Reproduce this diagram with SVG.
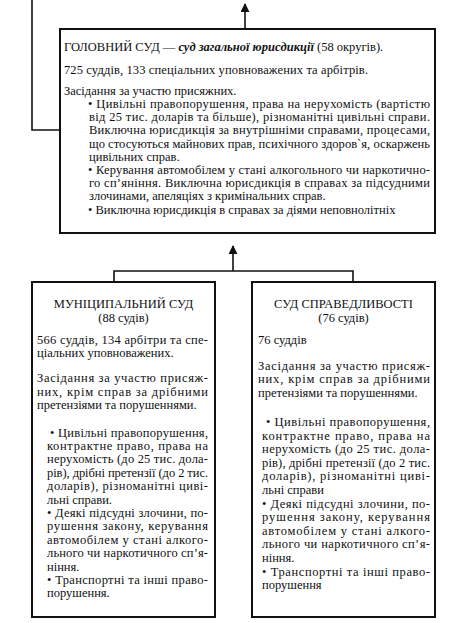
<svg xmlns="http://www.w3.org/2000/svg" width="454" height="623" viewBox="0 0 454 623">
<style>
  text { font-family: "Liberation Serif", "Times New Roman", serif; font-size: 12.5px; fill: #111; }
  .box { fill: #fff; stroke: #111; stroke-width: 2; }
  .c { text-anchor: middle; }
  .em { font-weight: bold; font-style: italic; }
  .ln { fill: none; stroke: #111; stroke-width: 1.6; }
</style>
<defs>
  <marker id="ah" viewBox="0 0 10 10" refX="9" refY="5" markerWidth="9" markerHeight="9" markerUnits="userSpaceOnUse" orient="auto">
    <path d="M0,0 L10,5 L0,10 z" fill="#111"/>
  </marker>
</defs>
<rect width="454" height="623" fill="#fff"/>

<g id="connectors">
  <path class="ln" d="M32,0 V130 H60"/>
  <path class="ln" d="M245,29 V4" marker-end="url(#ah)"/>
  <path class="ln" d="M114,282 V271 H353 V282"/>
  <path class="ln" d="M233,271 V246" marker-end="url(#ah)"/>
</g>

<g id="main-court">
  <rect class="box" x="60" y="29" width="375" height="204"/>
  <text x="64" y="51">ГОЛОВНИЙ СУД — <tspan class="em">суд загальної юрисдикції</tspan> (58 округів).</text>
  <text x="64" y="74" textLength="304" lengthAdjust="spacing">725 суддів, 133 спеціальних уповноважених та арбітрів.</text>
  <text x="64" y="95">Засідання за участю присяжних.</text>
  <text x="88" y="108" textLength="342" lengthAdjust="spacing">• Цивільні правопорушення, права на нерухомість (вартістю</text>
  <text x="89" y="121.2" textLength="341" lengthAdjust="spacing">від 25 тис. доларів та більше), різноманітні цивільні справи.</text>
  <text x="89" y="134.4" textLength="341" lengthAdjust="spacing">Виключна юрисдикція за внутрішніми справами, процесами,</text>
  <text x="89" y="147.6" textLength="341" lengthAdjust="spacing">що стосуються майнових прав, психічного здоров`я, оскаржень</text>
  <text x="89" y="160.8">цивільних справ.</text>
  <text x="88" y="174" textLength="342" lengthAdjust="spacing">• Керування автомобілем у стані алкогольного чи наркотично-</text>
  <text x="89" y="187.2" textLength="341" lengthAdjust="spacing">го сп’яніння. Виключна юрисдикція в справах за підсудними</text>
  <text x="89" y="200.4">злочинами, апеляціях з кримінальних справ.</text>
  <text x="88" y="213.6">• Виключна юрисдикція в справах за діями неповнолітніх</text>
</g>

<g id="municipal-court">
  <rect class="box" x="32" y="282" width="183" height="335"/>
  <text class="c" x="123.5" y="308">МУНІЦИПАЛЬНИЙ СУД</text>
  <text class="c" x="123.5" y="322">(88 судів)</text>
  <text x="37" y="344" textLength="171" lengthAdjust="spacing">566 суддів, 134 арбітри та спе-</text>
  <text x="37" y="357">ціальних уповноважених.</text>
  <text x="37" y="382" textLength="171" lengthAdjust="spacing">Засідання за участю присяж-</text>
  <text x="37" y="395.5" textLength="171" lengthAdjust="spacing">них, крім справ за дрібними</text>
  <text x="37" y="409">претензіями та порушеннями.</text>
  <text x="50" y="436.5" textLength="158" lengthAdjust="spacing">• Цивільні правопорушення,</text>
  <text x="47" y="449.9" textLength="161" lengthAdjust="spacing">контрактне право, права на</text>
  <text x="47" y="463.3" textLength="161" lengthAdjust="spacing">нерухомість (до 25 тис. дола-</text>
  <text x="47" y="476.7" textLength="161" lengthAdjust="spacing">рів), дрібні претензії (до 2 тис.</text>
  <text x="47" y="490.1" textLength="161" lengthAdjust="spacing">доларів), різноманітні циві-</text>
  <text x="47" y="503.5">льні справи.</text>
  <text x="47" y="516.9" textLength="161" lengthAdjust="spacing">• Деякі підсудні злочини, по-</text>
  <text x="47" y="530.3" textLength="161" lengthAdjust="spacing">рушення закону, керування</text>
  <text x="47" y="543.7" textLength="161" lengthAdjust="spacing">автомобілем у стані алкого-</text>
  <text x="47" y="557.1" textLength="161" lengthAdjust="spacing">льного чи наркотичного сп’я-</text>
  <text x="47" y="570.5">ніння.</text>
  <text x="47" y="583.9" textLength="161" lengthAdjust="spacing">• Транспортні та інші право-</text>
  <text x="47" y="597.3">порушення.</text>
</g>

<g id="justice-court">
  <rect class="box" x="252" y="282" width="183" height="335"/>
  <text class="c" x="343.5" y="308">СУД СПРАВЕДЛИВОСТІ</text>
  <text class="c" x="343.5" y="322">(76 судів)</text>
  <text x="258" y="344">76 суддів</text>
  <text x="258" y="369.5" textLength="172" lengthAdjust="spacing">Засідання за участю присяж-</text>
  <text x="258" y="383" textLength="172" lengthAdjust="spacing">них, крім справ за дрібними</text>
  <text x="258" y="396.5">претензіями та порушеннями.</text>
  <text x="266" y="426" textLength="164" lengthAdjust="spacing">• Цивільні правопорушення,</text>
  <text x="262" y="439.6" textLength="168" lengthAdjust="spacing">контрактне право, права на</text>
  <text x="262" y="453.2" textLength="168" lengthAdjust="spacing">нерухомість (до 25 тис. дола-</text>
  <text x="262" y="466.8" textLength="168" lengthAdjust="spacing">рів), дрібні претензії (до 2 тис.</text>
  <text x="262" y="480.4" textLength="168" lengthAdjust="spacing">доларів), різноманітні циві-</text>
  <text x="262" y="494">льні справи</text>
  <text x="262" y="507.6" textLength="168" lengthAdjust="spacing">• Деякі підсудні злочини, по-</text>
  <text x="262" y="521.2" textLength="168" lengthAdjust="spacing">рушення закону, керування</text>
  <text x="262" y="534.8" textLength="168" lengthAdjust="spacing">автомобілем у стані алкого-</text>
  <text x="262" y="548.4" textLength="168" lengthAdjust="spacing">льного чи наркотичного сп’я-</text>
  <text x="262" y="562">ніння.</text>
  <text x="262" y="575.6" textLength="168" lengthAdjust="spacing">• Транспортні та інші право-</text>
  <text x="262" y="589.2">порушення</text>
</g>
</svg>
